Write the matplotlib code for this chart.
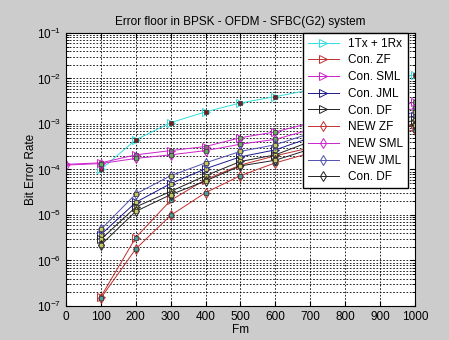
import numpy as np
import matplotlib.pyplot as plt
from matplotlib.ticker import NullFormatter

plt.rcParams['font.family'] = ['Liberation Sans', 'DejaVu Sans']

fm = [0, 100, 200, 300, 400, 500, 600, 700, 1000]

labels = ['1Tx + 1Rx', 'Con. ZF', 'Con. SML', 'Con. JML', 'Con. DF',
          'NEW ZF', 'NEW SML', 'NEW JML', 'Con. DF']

# BER values (None = no point)
ber_siso = [None, 1.0e-4, 4.5e-4, 1.07e-3, 1.85e-3, 2.9e-3, 4.0e-3, 5.6e-3, 1.2e-2]
ber_con_zf = [None, 1.6e-7, 3.2e-6, 2.1e-5, 6.0e-5, 1.25e-4, 2.0e-4, 3.0e-4, 1.0e-3]
ber_con_sml = [1.3e-4, 1.4e-4, 2.1e-4, 2.6e-4, 3.2e-4, 5.0e-4, 6.7e-4, 1.05e-3, 3.0e-3]
ber_con_jml = [None, 3.7e-6, 1.9e-5, 4.9e-5, 1.04e-4, 1.9e-4, 2.7e-4, 5.0e-4, 1.5e-3]
ber_con_df = [None, 2.9e-6, 1.5e-5, 3.3e-5, 7.3e-5, 1.5e-4, 2.1e-4, 4.1e-4, 1.2e-3]
ber_new_zf = [None, 1.5e-7, 1.8e-6, 9.8e-6, 3.1e-5, 7.3e-5, 1.4e-4, 2.3e-4, 7.5e-4]
ber_new_sml = [1.25e-4, 1.35e-4, 1.75e-4, 2.1e-4, 2.6e-4, 3.6e-4, 4.6e-4, 7.5e-4, 2.2e-3]
ber_new_jml = [None, 4.8e-6, 2.9e-5, 7.3e-5, 1.4e-4, 2.5e-4, 3.5e-4, 6.2e-4, 1.8e-3]
ber_new_df = [None, 2.2e-6, 1.2e-5, 2.8e-5, 5.6e-5, 1.2e-4, 1.6e-4, 2.8e-4, 9.5e-4]

series = [ber_siso, ber_con_zf, ber_con_sml, ber_con_jml, ber_con_df,
          ber_new_zf, ber_new_sml, ber_new_jml, ber_new_df]
colors = ['#33dddd', '#c03030', '#cc22cc', '#1a1a8c', '#222222',
          '#c03030', '#cc22cc', '#5050b0', '#222222']
markers = ['>', '>', '>', '>', '>', 'd', 'd', 'd', 'd']
sq_colors = ['#7a1a1a', '#4aa0a0', '#60b060', '#c8c860', '#c8c860',
             '#4aa0a0', '#60b060', '#c8c860', '#c8c860']

fig = plt.figure(figsize=(4.49, 3.40), dpi=100, facecolor='#cccccc')
ax = fig.add_axes([0.147, 0.1, 0.777, 0.803])

for vals, lab, c, m, sc in zip(series, labels, colors, markers, sq_colors):
    x = [f for f, v in zip(fm, vals) if v is not None]
    y = [v for v in vals if v is not None]
    ms = 6 if m == '>' else 5
    ax.plot(x, y, color=c, lw=0.7, marker=m, ms=ms, mfc='none', mec=c,
            mew=0.7, label=lab)
    sx = [a for a in x if a != 0]
    sy = [b for a, b in zip(x, y) if a != 0]
    ax.plot(sx, sy, ls='none', marker='s', ms=3.2, mfc=sc, mec='#333333', mew=0.5)

ax.set_yscale('log')
ax.set_xlim(0, 1000)
ax.set_ylim(1e-7, 1e-1)
ax.set_xticks(np.arange(0, 1001, 100))
ax.yaxis.set_minor_formatter(NullFormatter())
ax.grid(True, which='major', color='black', ls=(0, (2, 2)), lw=0.6)
ax.grid(True, which='minor', axis='y', color='black', ls=(0, (2, 2)), lw=0.6)
ax.tick_params(labelsize=8.5, direction='in', which='both', top=True, right=True)

ax.set_title('Error floor in BPSK - OFDM - SFBC(G2) system', fontsize=8.5)
ax.set_xlabel('Fm', fontsize=8.5, labelpad=1)
ax.set_ylabel('Bit Error Rate', fontsize=8.5, labelpad=0)

ax.legend(loc='upper right', bbox_to_anchor=(0.98, 1.0), borderaxespad=0,
          fontsize=8.5, handlelength=2.6, labelspacing=0.4, fancybox=False,
          edgecolor='black', framealpha=1)

fig.savefig('out.png', dpi=100, facecolor=fig.get_facecolor())
